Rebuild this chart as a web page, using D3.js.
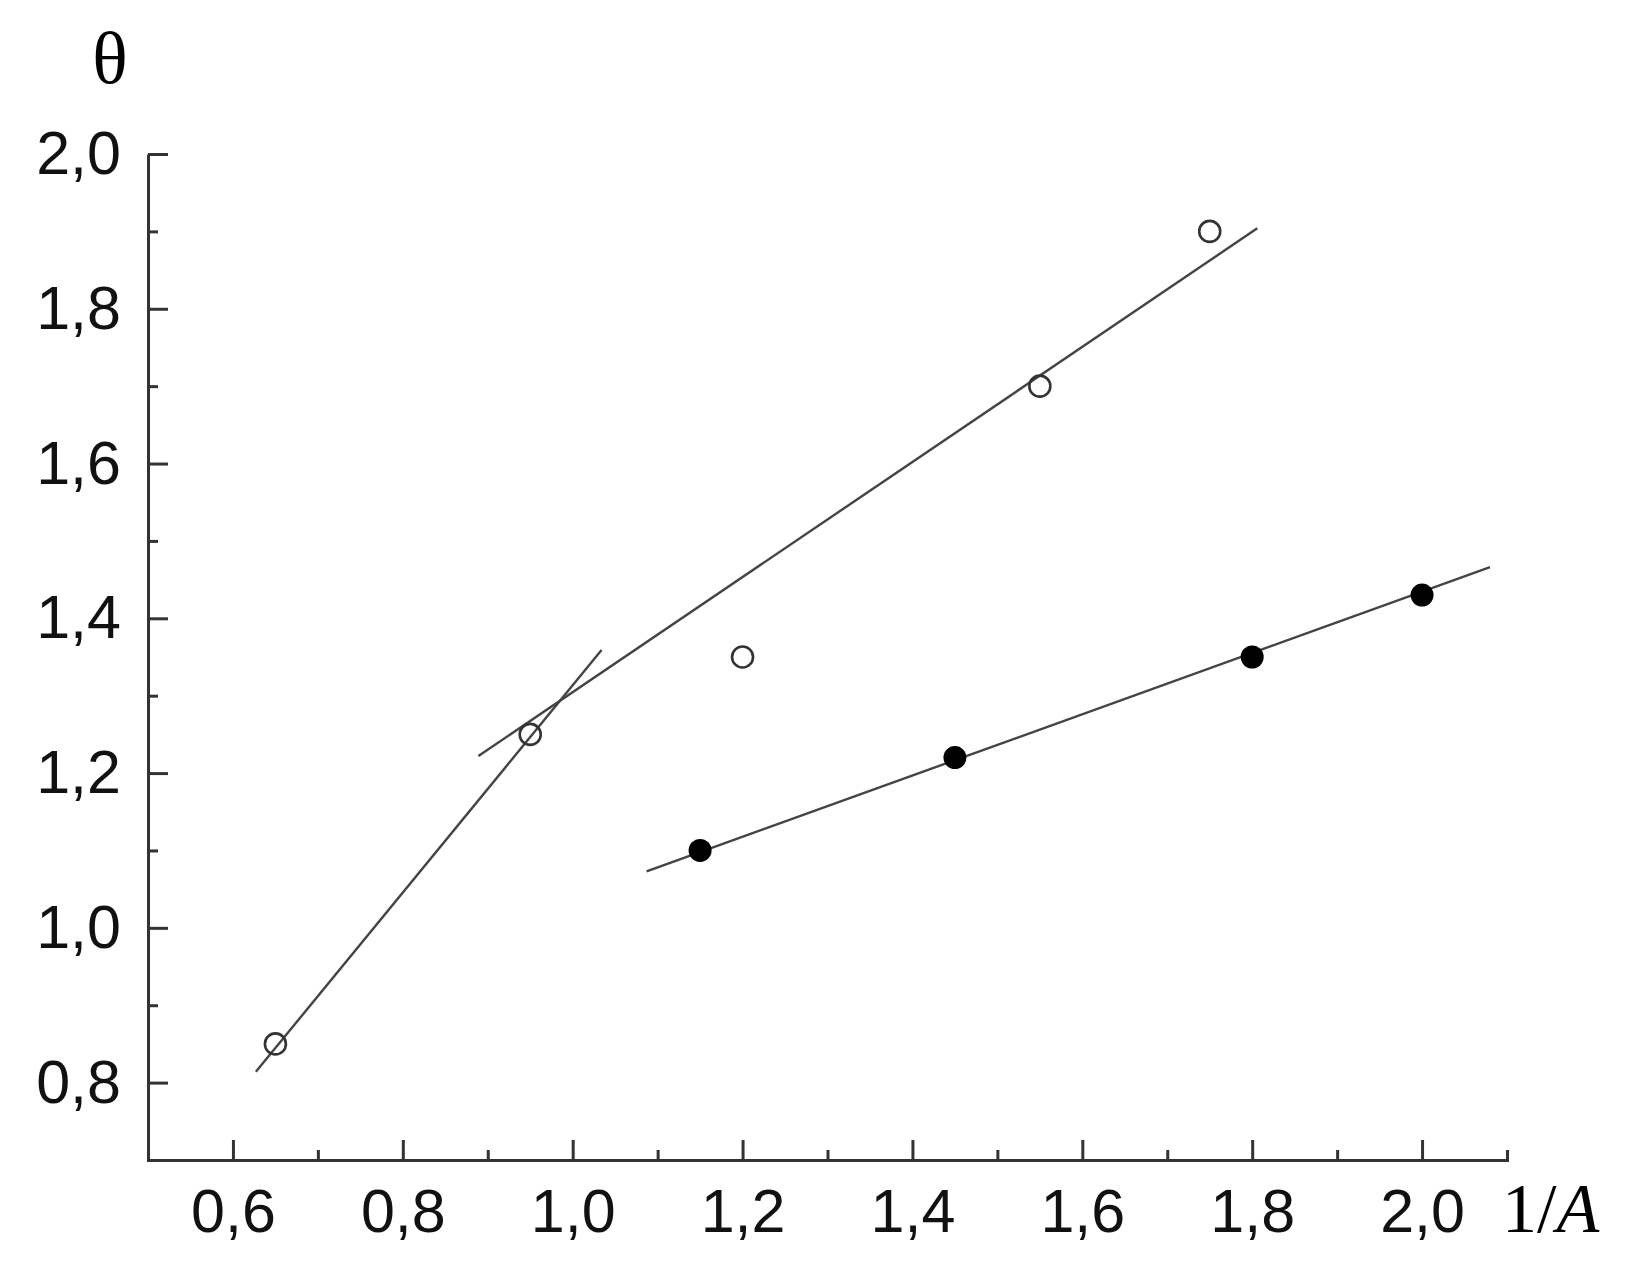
<head>
    <meta charset="utf-8">
    <title>theta vs 1/A</title>
    <script src="https://d3js.org/d3.v7.min.js"></script>
    <style>
        body { margin: 0; background: #fff; }
        .tick text { font-family: "Liberation Sans", Arial, sans-serif; font-size: 61px; fill: #111; }
    </style>
</head>

<body>
    <svg></svg>
    <script>
        var svgWidth = 1632;
        var svgHeight = 1263;

        // open circles
        var openX = [0.65, 0.95, 1.2, 1.55, 1.75];
        var openY = [0.85, 1.25, 1.35, 1.70, 1.90];
        // filled circles
        var fillX = [1.15, 1.45, 1.8, 2.0];
        var fillY = [1.10, 1.22, 1.35, 1.43];

        // fitted straight lines, [x1, y1, x2, y2]
        var lineSteep = [0.627, 0.814, 1.034, 1.359];
        var lineUpper = [0.889, 1.222, 1.806, 1.904];
        var lineLower = [1.087, 1.073, 2.080, 1.466];

        var xTicks = [0.6, 0.8, 1.0, 1.2, 1.4, 1.6, 1.8, 2.0];
        var yTicks = [0.8, 1.0, 1.2, 1.4, 1.6, 1.8, 2.0];

        var svg = d3.select("svg")
            .attr("width", svgWidth)
            .attr("height", svgHeight);

        var x = d3.scaleLinear().domain([0.5, 2.1]).range([148, 1507]);
        var y = d3.scaleLinear().domain([0.7, 2.0]).range([1160, 154]);

        var fmt = function (d) { return d3.format(".1f")(d).replace(".", ","); };

        // minor ticks
        svg.append("g")
            .attr("transform", "translate(0," + y(0.7) + ")")
            .call(d3.axisBottom(x).tickValues(d3.range(0.7, 2.11, 0.2)).tickSize(-10).tickFormat(""))
            .call(function (g) { g.select(".domain").remove(); });
        svg.append("g")
            .attr("transform", "translate(" + x(0.5) + ",0)")
            .call(d3.axisLeft(y).tickValues(d3.range(0.9, 1.95, 0.2)).tickSize(-10).tickFormat(""))
            .call(function (g) { g.select(".domain").remove(); });

        // major axes
        var xAxis = svg.append("g")
            .attr("transform", "translate(0," + y(0.7) + ")")
            .call(d3.axisBottom(x).tickValues(xTicks).tickSize(-20).tickSizeOuter(-10).tickPadding(29).tickFormat(fmt));
        var yAxis = svg.append("g")
            .attr("transform", "translate(" + x(0.5) + ",0)")
            .call(d3.axisLeft(y).tickValues(yTicks).tickSize(-20).tickSizeOuter(0).tickPadding(27).tickFormat(fmt));

        svg.selectAll(".domain, .tick line")
            .attr("stroke", "#333")
            .attr("stroke-width", 3);

        // lines
        var lines = [lineSteep, lineUpper, lineLower];
        svg.selectAll("line.fit")
            .data(lines)
            .enter()
            .append("line")
            .attr("class", "fit")
            .attr("x1", function (d) { return x(d[0]); })
            .attr("y1", function (d) { return y(d[1]); })
            .attr("x2", function (d) { return x(d[2]); })
            .attr("y2", function (d) { return y(d[3]); })
            .attr("stroke", "#444")
            .attr("stroke-width", 2.4);

        svg.selectAll("circle.open")
            .data(openX)
            .enter()
            .append("circle")
            .attr("class", "open")
            .attr("cx", function (d) { return x(d); })
            .attr("cy", function (d, i) { return y(openY[i]); })
            .attr("r", 10.5)
            .attr("fill", "none")
            .attr("stroke", "#333")
            .attr("stroke-width", 2.6);

        svg.selectAll("circle.filled")
            .data(fillX)
            .enter()
            .append("circle")
            .attr("class", "filled")
            .attr("cx", function (d) { return x(d); })
            .attr("cy", function (d, i) { return y(fillY[i]); })
            .attr("r", 11.5)
            .attr("fill", "#000");

        // axis titles
        svg.append("text")
            .attr("x", 110)
            .attr("y", 83)
            .attr("text-anchor", "middle")
            .style("font-family", "'Liberation Serif', 'Times New Roman', serif")
            .style("font-size", "74px")
            .text("θ");

        var xt = svg.append("text")
            .attr("x", 1502)
            .attr("y", 1232)
            .style("font-family", "'Liberation Serif', 'Times New Roman', serif")
            .style("font-size", "70px");
        xt.append("tspan").text("1/");
        xt.append("tspan").style("font-style", "italic").text("A");
    </script>
</body>
